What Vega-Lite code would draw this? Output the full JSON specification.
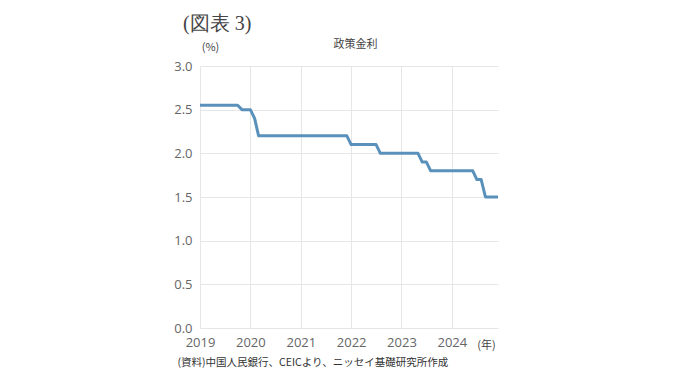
{
  "$schema": "https://vega.github.io/schema/vega-lite/v6.json",
  "autosize": "none",
  "width": 298,
  "height": 262,
  "padding": {"left": 200, "top": 66, "right": 182, "bottom": 54},
  "background": "white",
  "title": {
    "text": "(図表 3)",
    "anchor": "start",
    "frame": "group",
    "dx": -17,
    "offset": 4,
    "font": "'Liberation Serif', 'DejaVu Serif', serif",
    "fontSize": 20,
    "fontWeight": "normal",
    "color": "#444444"
  },
  "config": {
    "view": {"stroke": null},
    "axis": {
      "labelFont": "Open Sans",
      "labelFontSize": 13,
      "labelColor": "#666666",
      "titleFont": "Noto Sans CJK JP",
      "titleFontWeight": "normal",
      "titleColor": "#444444",
      "gridColor": "#e6e6e6",
      "gridWidth": 1,
      "domain": false,
      "ticks": false
    }
  },
  "data": {
    "values": [
      {"date": "2019-01-01", "rate": 2.55},
      {"date": "2019-02-01", "rate": 2.55},
      {"date": "2019-03-01", "rate": 2.55},
      {"date": "2019-04-01", "rate": 2.55},
      {"date": "2019-05-01", "rate": 2.55},
      {"date": "2019-06-01", "rate": 2.55},
      {"date": "2019-07-01", "rate": 2.55},
      {"date": "2019-08-01", "rate": 2.55},
      {"date": "2019-09-01", "rate": 2.55},
      {"date": "2019-10-01", "rate": 2.55},
      {"date": "2019-11-01", "rate": 2.5},
      {"date": "2019-12-01", "rate": 2.5},
      {"date": "2020-01-01", "rate": 2.5},
      {"date": "2020-02-01", "rate": 2.4},
      {"date": "2020-03-01", "rate": 2.2},
      {"date": "2020-04-01", "rate": 2.2},
      {"date": "2020-05-01", "rate": 2.2},
      {"date": "2020-06-01", "rate": 2.2},
      {"date": "2020-07-01", "rate": 2.2},
      {"date": "2020-08-01", "rate": 2.2},
      {"date": "2020-09-01", "rate": 2.2},
      {"date": "2020-10-01", "rate": 2.2},
      {"date": "2020-11-01", "rate": 2.2},
      {"date": "2020-12-01", "rate": 2.2},
      {"date": "2021-01-01", "rate": 2.2},
      {"date": "2021-02-01", "rate": 2.2},
      {"date": "2021-03-01", "rate": 2.2},
      {"date": "2021-04-01", "rate": 2.2},
      {"date": "2021-05-01", "rate": 2.2},
      {"date": "2021-06-01", "rate": 2.2},
      {"date": "2021-07-01", "rate": 2.2},
      {"date": "2021-08-01", "rate": 2.2},
      {"date": "2021-09-01", "rate": 2.2},
      {"date": "2021-10-01", "rate": 2.2},
      {"date": "2021-11-01", "rate": 2.2},
      {"date": "2021-12-01", "rate": 2.2},
      {"date": "2022-01-01", "rate": 2.1},
      {"date": "2022-02-01", "rate": 2.1},
      {"date": "2022-03-01", "rate": 2.1},
      {"date": "2022-04-01", "rate": 2.1},
      {"date": "2022-05-01", "rate": 2.1},
      {"date": "2022-06-01", "rate": 2.1},
      {"date": "2022-07-01", "rate": 2.1},
      {"date": "2022-08-01", "rate": 2.0},
      {"date": "2022-09-01", "rate": 2.0},
      {"date": "2022-10-01", "rate": 2.0},
      {"date": "2022-11-01", "rate": 2.0},
      {"date": "2022-12-01", "rate": 2.0},
      {"date": "2023-01-01", "rate": 2.0},
      {"date": "2023-02-01", "rate": 2.0},
      {"date": "2023-03-01", "rate": 2.0},
      {"date": "2023-04-01", "rate": 2.0},
      {"date": "2023-05-01", "rate": 2.0},
      {"date": "2023-06-01", "rate": 1.9},
      {"date": "2023-07-01", "rate": 1.9},
      {"date": "2023-08-01", "rate": 1.8},
      {"date": "2023-09-01", "rate": 1.8},
      {"date": "2023-10-01", "rate": 1.8},
      {"date": "2023-11-01", "rate": 1.8},
      {"date": "2023-12-01", "rate": 1.8},
      {"date": "2024-01-01", "rate": 1.8},
      {"date": "2024-02-01", "rate": 1.8},
      {"date": "2024-03-01", "rate": 1.8},
      {"date": "2024-04-01", "rate": 1.8},
      {"date": "2024-05-01", "rate": 1.8},
      {"date": "2024-06-01", "rate": 1.8},
      {"date": "2024-07-01", "rate": 1.7},
      {"date": "2024-08-01", "rate": 1.7},
      {"date": "2024-09-01", "rate": 1.5},
      {"date": "2024-10-01", "rate": 1.5},
      {"date": "2024-11-01", "rate": 1.5},
      {"date": "2024-12-01", "rate": 1.5}
    ]
  },
  "layer": [
    {
      "mark": {"type": "line", "color": "#5a91bb", "strokeWidth": 3, "strokeJoin": "round"},
      "encoding": {
        "x": {
          "field": "date",
          "type": "temporal",
          "scale": {
            "type": "utc",
            "domain": [
              {"year": 2019, "month": 1, "date": 1, "utc": true},
              {"year": 2024, "month": 12, "date": 1, "utc": true}
            ]
          },
          "axis": {
            "orient": "bottom",
            "format": "%Y",
            "formatType": "utc",
            "tickCount": {"interval": "year", "step": 1},
            "labelPadding": 8,
            "labelFlush": false,
            "labelOverlap": false,
            "grid": true,
            "title": "(資料)中国人民銀行、CEICより、ニッセイ基礎研究所作成",
            "titleFontSize": 10.5,
            "titleColor": "#333333",
            "titleAlign": "left",
            "titleAnchor": null,
            "titleX": -23,
            "titleY": 34,
            "titleBaseline": "middle"
          }
        },
        "y": {
          "field": "rate",
          "type": "quantitative",
          "scale": {"domain": [0, 3], "nice": false, "zero": true},
          "axis": {
            "orient": "left",
            "values": [0, 0.5, 1, 1.5, 2, 2.5, 3],
            "format": ".1f",
            "labelPadding": 8,
            "grid": true,
            "title": "(%)",
            "titleFontSize": 11,
            "titleAngle": 0,
            "titleAlign": "center",
            "titleBaseline": "middle",
            "titleX": 10,
            "titleY": -19
          }
        }
      }
    },
    {
      "mark": {"type": "line", "opacity": 0},
      "encoding": {
        "x": {
          "field": "date",
          "type": "temporal",
          "scale": {
            "type": "utc",
            "domain": [
              {"year": 2019, "month": 1, "date": 1, "utc": true},
              {"year": 2024, "month": 12, "date": 1, "utc": true}
            ]
          },
          "axis": {
            "orient": "top",
            "labels": false,
            "grid": false,
            "title": "政策金利",
            "titleFontSize": 11,
            "titleColor": "#444444",
            "titleAlign": "center",
            "titleBaseline": "middle",
            "titleX": 155,
            "titleY": -22
          }
        },
        "y": {
          "field": "rate",
          "type": "quantitative",
          "scale": {"domain": [0, 3], "nice": false},
          "axis": {
            "orient": "right",
            "labels": false,
            "grid": false,
            "title": "(年)",
            "titleFontSize": 11,
            "titleAngle": 0,
            "titleAlign": "center",
            "titleBaseline": "middle",
            "titleX": -12,
            "titleY": 279
          }
        }
      }
    }
  ],
  "resolve": {"scale": {"x": "independent", "y": "independent"}, "axis": {"x": "independent", "y": "independent"}}
}
